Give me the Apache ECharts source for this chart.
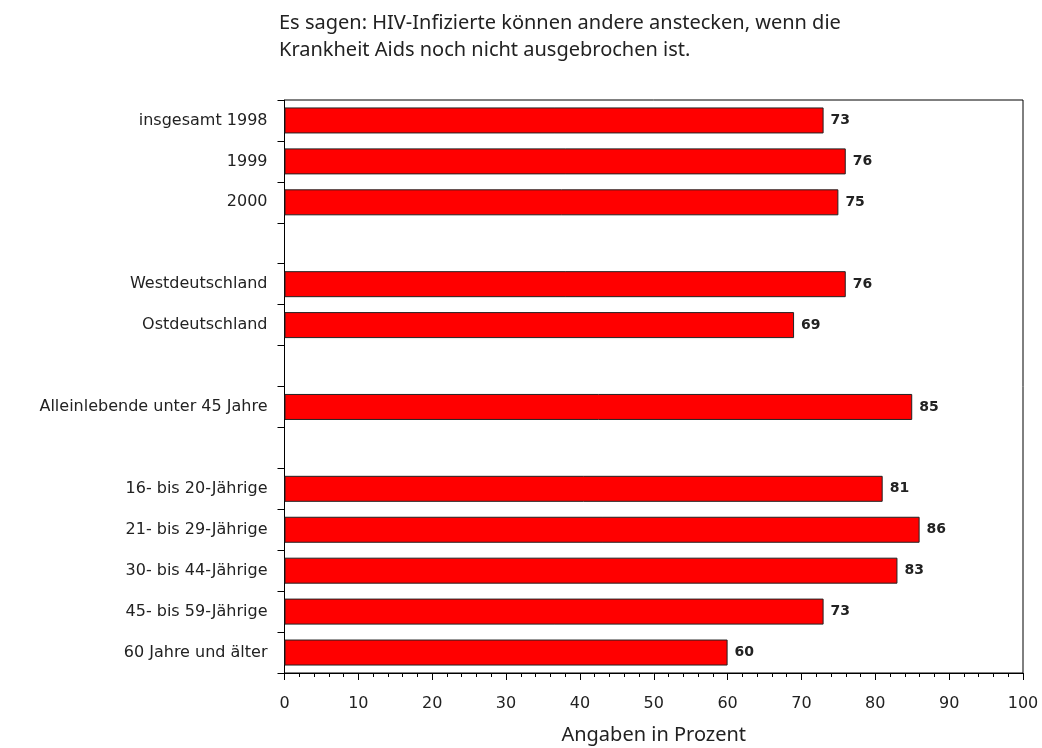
<!DOCTYPE html>
<html>
<head>
<meta charset="utf-8">
<script src="https://cdn.jsdelivr.net/npm/echarts@6/dist/echarts.min.js"></script>
<style>html,body{margin:0;padding:0;background:#fff;}#c{width:1042px;height:748px;}</style>
</head>
<body>
<div id="c"></div>
<script>
const titleLines = ["Es sagen: HIV-Infizierte können andere anstecken, wenn die", "Krankheit Aids noch nicht ausgebrochen ist."];
const categories = ["insgesamt 1998", "1999", "2000", "", "Westdeutschland", "Ostdeutschland", "", "Alleinlebende unter 45 Jahre", "", "16- bis 20-Jährige", "21- bis 29-Jährige", "30- bis 44-Jährige", "45- bis 59-Jährige", "60 Jahre und älter"];
const values = [73, 76, 75, "-", 76, 69, "-", 85, "-", 81, 86, 83, 73, 60];
const xAxisName = "Angaben in Prozent";

const chart = echarts.init(document.getElementById('c'), null, {renderer: 'canvas'});
chart.setOption({
  backgroundColor: '#fff',
  animation: false,
  title: {
    text: titleLines.join('\n'),
    left: 274,
    top: 5,
    textStyle: {fontFamily: 'Noto Sans', fontSize: 20, fontWeight: 'normal', color: '#222', lineHeight: 27}
  },
  grid: {
    left: 284.5, top: 100, right: 19, bottom: 75,
    outerBoundsMode: 'none',
    show: true, borderColor: '#000', borderWidth: 1, backgroundColor: 'transparent'
  },
  xAxis: {
    type: 'value', min: 0, max: 100, interval: 10,
    name: xAxisName, nameLocation: 'middle', nameGap: 52,
    nameTextStyle: {fontFamily: 'Noto Sans', fontSize: 20, color: '#222', verticalAlign: 'top'},
    axisLine: {show: true, lineStyle: {color: '#000', width: 1}},
    axisTick: {show: true, length: 7, lineStyle: {color: '#000', width: 1}},
    minorTick: {show: true, splitNumber: 5, length: 4, lineStyle: {color: '#000', width: 1}},
    splitLine: {show: false},
    axisLabel: {margin: 23, fontFamily: 'DejaVu Sans', fontSize: 16, color: '#222'}
  },
  yAxis: {
    type: 'category', data: categories, inverse: true,
    axisLine: {show: true, lineStyle: {color: '#000', width: 1}},
    axisTick: {show: true, length: 7, lineStyle: {color: '#000', width: 1}},
    axisLabel: {margin: 17, fontFamily: 'DejaVu Sans', fontSize: 16, color: '#222'},
    splitLine: {show: false}
  },
  series: [{
    type: 'bar', data: values, barWidth: 26,
    itemStyle: {color: '#ff0000', borderColor: '#222', borderWidth: 1},
    label: {show: true, position: 'right', distance: 7, fontFamily: 'DejaVu Sans', fontSize: 14, fontWeight: 'bold', color: '#222'}
  }]
});
</script>
</body>
</html>
